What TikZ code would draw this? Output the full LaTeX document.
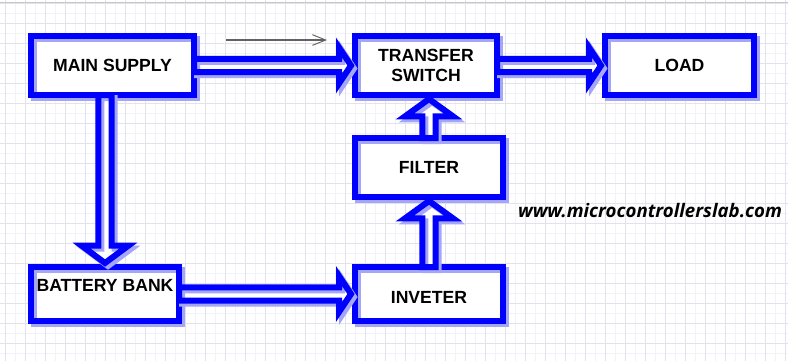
\documentclass[tikz,border=0pt]{standalone}
\usepackage{fontspec}
\setmainfont{Liberation Sans}
\newfontfamily\webfont{Open Sans}
\usetikzlibrary{positioning,calc,arrows.meta}
\definecolor{boxblue}{RGB}{0,0,255}
\definecolor{shade}{RGB}{165,165,250}
\definecolor{gridc}{RGB}{226,226,238}
\definecolor{gridf}{RGB}{242,242,248}
\newcommand{\fw}{4.9pt}
% hollow block arrow: from, to, head half width, head length
\newcommand{\fatarrow}[4]{%
 \coordinate (ft) at ($(#2)!3pt!(#1)$);
 \coordinate (fb) at ($(ft)!#4!(#1)$);
 \path[fat] ($(#1)!\fw!90:(ft)$) -- ($(fb)!\fw!90:(ft)$) -- ($(fb)!#3!90:(ft)$) -- (ft)
  -- ($(fb)!#3!-90:(ft)$) -- ($(fb)!\fw!-90:(ft)$) -- ($(#1)!\fw!-90:(ft)$) -- cycle;}

\begin{document}
\begin{tikzpicture}[x=0.75pt,y=-0.75pt,font=\bfseries\fontsize{13.2}{14.6}\selectfont,
 B/.style={fill=white,inner sep=0pt,outer sep=0pt,align=center,minimum height=44.25pt,
  postaction={draw=shade,line width=4.5pt,transform canvas={shift={(2.25pt,-2.25pt)}}},
  postaction={draw=boxblue,line width=4.5pt}},
 fat/.style={fill=white,line join=miter,
  postaction={draw=shade,line width=4.5pt,transform canvas={shift={(2.25pt,-2.25pt)}}},
  postaction={draw=boxblue,line width=4.5pt}},
 hint/.style={draw=black!62,line width=1.1pt,-{Straight Barb[length=10pt,width=8pt,line width=0.7pt]}}]
 \useasboundingbox[fill=white] (0,0) rectangle (788,361);
 % grid paper
 \foreach \gx in {15,35,...,775} \draw[gridf] (\gx,0) -- (\gx,361);
 \foreach \gy in {13,33,...,353} \draw[gridf] (0,\gy) -- (788,\gy);
 \foreach \gx in {5,25,...,785} \draw[gridc] (\gx,0) -- (\gx,361);
 \foreach \gy in {3,23,...,343} \draw[gridc] (0,\gy) -- (788,\gy);
 \draw[black!22] (0,2) -- (788,2);

 \node[B,minimum width=122.25pt](ms) at (112.5,65.5){MAIN SUPPLY};
 \node[B,minimum width=106.5pt,right=120.75pt of ms](ts){TRANSFER\\SWITCH};
 \node[B,minimum width=111.75pt,right=81pt of ts](ld){LOAD};
 \node[B,minimum width=111pt,below=32.25pt of ts,xshift=2.25pt](fl){FILTER};
 \node[B,minimum width=111pt,minimum height=40.5pt,text height=13.8pt,below=52.5pt of fl](iv){INVETER};
 \node[B,minimum width=111pt,minimum height=40.5pt,text depth=12.8pt,left=132pt of iv](bb){BATTERY BANK};

 \fatarrow{ms.east}{ts.west}{13.5pt}{9pt}
 \fatarrow{ts.east}{ld.west}{13.5pt}{9pt}
 \coordinate (mb) at (bb.north |- ms.south);
 \fatarrow{mb}{bb.north}{17.5pt}{13pt}
 \fatarrow{bb.east}{iv.west}{13.5pt}{9pt}
 \fatarrow{iv.north}{fl.south}{18pt}{13pt}
 \coordinate (fs) at (fl.north |- ts.south);
 \fatarrow{fl.north}{fs}{18pt}{13pt}

 \coordinate (h1) at (226,40);
 \coordinate (h2) at (327,40);
 \draw[hint](h1)--(h2);

 \node[font=\webfont\bfseries\itshape\fontsize{14}{16}\selectfont](url) at (650,211){www.microcontrollerslab.com};
\end{tikzpicture}
\end{document}
